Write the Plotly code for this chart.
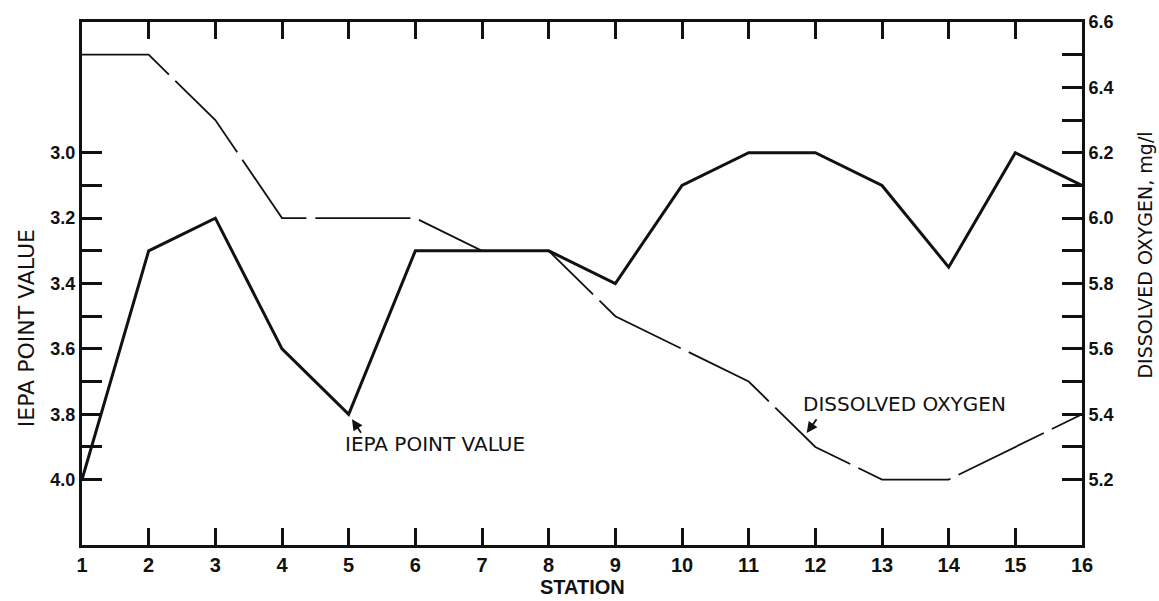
import plotly.graph_objects as go

# Station numbers along the river
stations = list(range(1, 17))

# IEPA point value at each station (left axis, reversed)
iepa_value = [4.0, 3.3, 3.2, 3.6, 3.8, 3.3, 3.3, 3.3, 3.4, 3.1, 3.0, 3.0, 3.1, 3.35, 3.0, 3.1]

# Dissolved oxygen, mg/l (right axis)
dissolved_oxygen = [6.5, 6.5, 6.3, 6.0, 6.0, 6.0, 5.9, 5.9, 5.7, 5.6, 5.5, 5.3, 5.2, 5.2, 5.3, 5.4]

# Axis ticks
left_ticks = [3.0, 3.1, 3.2, 3.3, 3.4, 3.5, 3.6, 3.7, 3.8, 3.9, 4.0]
left_labels = ["3.0", "", "3.2", "", "3.4", "", "3.6", "", "3.8", "", "4.0"]
right_ticks = [5.2, 5.3, 5.4, 5.5, 5.6, 5.7, 5.8, 5.9, 6.0, 6.1, 6.2, 6.3, 6.4, 6.5, 6.6]
right_labels = ["5.2", "", "5.4", "", "5.6", "", "5.8", "", "6.0", "", "6.2", "", "6.4", "", "6.6"]

SANS = "Liberation Sans, Arial, Helvetica, sans-serif"
WIDE = "DejaVu Sans, Verdana, sans-serif"
NARROW = "Liberation Sans Narrow, Arial Narrow, Liberation Sans, sans-serif"
INK = "#111111"

# Page geometry (pixels): plot frame edges
W, H = 1159, 601
L, R, T, B = 82, 1082, 12, 545


def px_to_paper(px, py):
    return (px - L) / (R - L), (B - py) / (B - T)


fig = go.Figure()

fig.add_trace(go.Scatter(
    x=stations, y=iepa_value, mode="lines",
    line=dict(color=INK, width=3), yaxis="y", showlegend=False,
))
fig.add_trace(go.Scatter(
    x=stations, y=dissolved_oxygen, mode="lines",
    line=dict(color=INK, width=1.8, dash="95px,9px"), yaxis="y2", showlegend=False,
))

sx, sy = px_to_paper(582, 588)
lx, ly = px_to_paper(26, 324)
rx, ry = px_to_paper(1145, 250)

fig.update_layout(
    width=W, height=H,
    margin=dict(l=L, r=W - R, t=T, b=H - B),
    paper_bgcolor="white", plot_bgcolor="white",
    font=dict(family=SANS, color=INK),
    xaxis=dict(
        range=[1, 16], tickvals=stations, ticktext=[str(s) for s in stations],
        ticks="inside", ticklen=17, tickwidth=2.5, tickcolor=INK,
        showline=True, linewidth=3, linecolor=INK, mirror="ticks",
        showgrid=False, zeroline=False,
        tickfont=dict(family=NARROW, size=20, color=INK, weight="bold"),
    ),
    yaxis=dict(
        range=[4.2, 2.6], tickvals=left_ticks, ticktext=left_labels,
        ticks="inside", ticklen=20, tickwidth=3, tickcolor=INK,
        showline=True, linewidth=3, linecolor=INK,
        showgrid=False, zeroline=False,
        tickfont=dict(family=SANS, size=18, color=INK, weight="bold"),
    ),
    yaxis2=dict(
        range=[5.0, 6.6], tickvals=right_ticks, ticktext=right_labels,
        overlaying="y", side="right", anchor="x",
        ticks="inside", ticklen=20, tickwidth=3, tickcolor=INK,
        showline=True, linewidth=3, linecolor=INK,
        showgrid=False, zeroline=False,
        tickfont=dict(family=SANS, size=18, color=INK, weight="bold"),
    ),
    annotations=[
        # axis titles
        dict(x=sx, y=sy, xref="paper", yref="paper", text="STATION",
             xanchor="center", yanchor="middle", showarrow=False,
             font=dict(family=NARROW, size=20, color=INK, weight="bold")),
        dict(x=lx, y=ly, xref="paper", yref="paper", text="IEPA POINT VALUE",
             textangle=-90, xanchor="center", yanchor="middle", showarrow=False,
             font=dict(family=WIDE, size=22, color=INK)),
        dict(x=rx, y=ry, xref="paper", yref="paper", text="DISSOLVED OXYGEN, mg/l",
             textangle=-90, xanchor="center", yanchor="middle", showarrow=False,
             font=dict(family=WIDE, size=19, color=INK)),
        # series labels with pointers
        dict(x=6.3, y=3.89, xref="x", yref="y", text="IEPA POINT VALUE",
             showarrow=False, font=dict(family=WIDE, size=20, color=INK)),
        dict(x=5.05, y=3.815, xref="x", yref="y", text="", showarrow=True,
             ax=10, ay=15, arrowhead=2, arrowsize=1.2, arrowwidth=1.8, arrowcolor=INK),
        dict(x=13.33, y=5.43, xref="x", yref="y2", text="DISSOLVED OXYGEN",
             showarrow=False, font=dict(family=WIDE, size=20, color=INK)),
        dict(x=11.87, y=5.343, xref="x", yref="y2", text="", showarrow=True,
             ax=11, ay=-15, arrowhead=2, arrowsize=1.2, arrowwidth=1.8, arrowcolor=INK),
    ],
)

fig.write_html("out.html")
